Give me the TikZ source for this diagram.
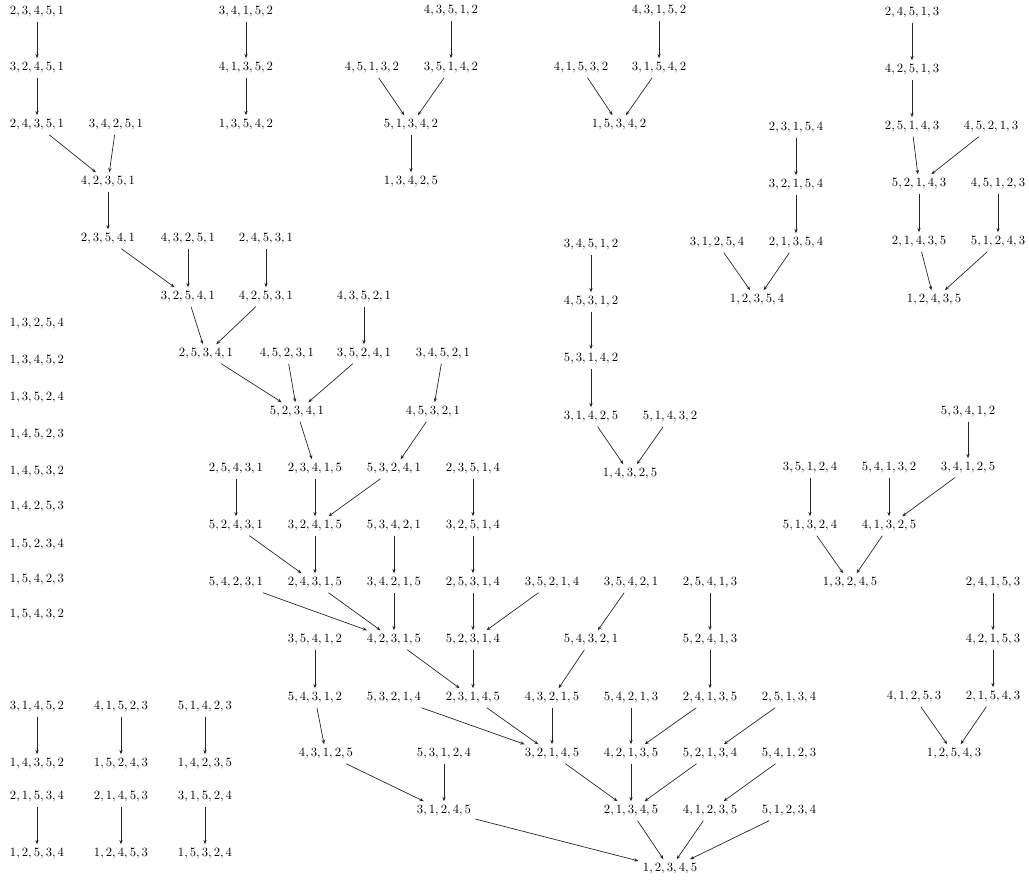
\documentclass[tikz,border=0pt]{standalone}
\usetikzlibrary{arrows.meta}
\def\pmn#1#2#3#4#5{$#1,#2,#3,#4,#5$}
\tikzset{
  arr/.style={-{Stealth[length=3.4pt,width=2.6pt]}, line width=0.55pt, draw=black!85},
  every node/.style={inner sep=3.3pt}
}
\begin{document}
\begin{tikzpicture}[x=0.79pt,y=-0.79pt]
\useasboundingbox (0,0) rectangle (1029,883);
% main tree
\node (n23451) at (37,12) {\pmn23451};
\node (n32451) at (37,68) {\pmn32451};
\node (n24351) at (37,125) {\pmn24351};
\node (n34251) at (116,125) {\pmn34251};
\node (n42351) at (108,182) {\pmn42351};
\node (n23541) at (108,239) {\pmn23541};
\node (n43251) at (188,239) {\pmn43251};
\node (n24531) at (266,239) {\pmn24531};
\node (n32541) at (188,297) {\pmn32541};
\node (n42531) at (266,297) {\pmn42531};
\node (n43521) at (364,297) {\pmn43521};
\node (n25341) at (206,354) {\pmn25341};
\node (n45231) at (287,354) {\pmn45231};
\node (n35241) at (364,354) {\pmn35241};
\node (n34521) at (443,354) {\pmn34521};
\node (n52341) at (297,412) {\pmn52341};
\node (n45321) at (433,412) {\pmn45321};
\node (n25431) at (236,469) {\pmn25431};
\node (n23415) at (315,469) {\pmn23415};
\node (n53241) at (394,469) {\pmn53241};
\node (n23514) at (473,469) {\pmn23514};
\node (n52431) at (236,526) {\pmn52431};
\node (n32415) at (315,526) {\pmn32415};
\node (n53421) at (394,526) {\pmn53421};
\node (n32514) at (473,526) {\pmn32514};
\node (n54231) at (236,583) {\pmn54231};
\node (n24315) at (315,583) {\pmn24315};
\node (n34215) at (394,583) {\pmn34215};
\node (n25314) at (473,583) {\pmn25314};
\node (n35214) at (552,583) {\pmn35214};
\node (n35421) at (631,583) {\pmn35421};
\node (n25413) at (710,583) {\pmn25413};
\node (n35412) at (315,640) {\pmn35412};
\node (n42315) at (394,640) {\pmn42315};
\node (n52314) at (473,640) {\pmn52314};
\node (n54321) at (591,640) {\pmn54321};
\node (n52413) at (710,640) {\pmn52413};
\node (n54312) at (315,698) {\pmn54312};
\node (n53214) at (394,698) {\pmn53214};
\node (n23145) at (473,698) {\pmn23145};
\node (n43215) at (552,698) {\pmn43215};
\node (n54213) at (631,698) {\pmn54213};
\node (n24135) at (710,698) {\pmn24135};
\node (n25134) at (789,698) {\pmn25134};
\node (n43125) at (326,754) {\pmn43125};
\node (n53124) at (444,754) {\pmn53124};
\node (n32145) at (552,754) {\pmn32145};
\node (n42135) at (631,754) {\pmn42135};
\node (n52134) at (710,754) {\pmn52134};
\node (n54123) at (789,754) {\pmn54123};
\node (n31245) at (444,811) {\pmn31245};
\node (n21345) at (631,811) {\pmn21345};
\node (n41235) at (710,811) {\pmn41235};
\node (n51234) at (789,811) {\pmn51234};
\node (n12345) at (670,869) {\pmn12345};
% top groups
\node (n34152) at (246,12) {\pmn34152};
\node (n41352) at (246,68) {\pmn41352};
\node (n13542) at (246,125) {\pmn13542};
\node (n43512) at (451,11) {\pmn43512};
\node (n45132) at (372,68) {\pmn45132};
\node (n35142) at (451,68) {\pmn35142};
\node (n51342) at (411,125) {\pmn51342};
\node (n13425) at (411,182) {\pmn13425};
\node (n43152) at (659,11) {\pmn43152};
\node (n41532) at (581,68) {\pmn41532};
\node (n31542) at (659,68) {\pmn31542};
\node (n15342) at (619,125) {\pmn15342};
\node (n24513) at (912,13) {\pmn24513};
\node (n42513) at (912,70) {\pmn42513};
\node (n25143) at (912,127) {\pmn25143};
\node (n45213) at (991,127) {\pmn45213};
\node (n52143) at (919,184) {\pmn52143};
\node (n45123) at (998,184) {\pmn45123};
\node (n21435) at (919,242) {\pmn21435};
\node (n51243) at (998,242) {\pmn51243};
\node (n12435) at (934,300) {\pmn12435};
\node (n23154) at (796,128) {\pmn23154};
\node (n32154) at (796,185) {\pmn32154};
\node (n31254) at (717,243) {\pmn31254};
\node (n21354) at (796,243) {\pmn21354};
\node (n12354) at (757,300) {\pmn12354};
% middle group
\node (n34512) at (591,245) {\pmn34512};
\node (n45312) at (591,302) {\pmn45312};
\node (n53142) at (591,359) {\pmn53142};
\node (n31425) at (591,417) {\pmn31425};
\node (n51432) at (670,417) {\pmn51432};
\node (n14325) at (630,474) {\pmn14325};
% right groups
\node (n53412) at (968,412) {\pmn53412};
\node (n35124) at (810,468) {\pmn35124};
\node (n54132) at (889,468) {\pmn54132};
\node (n34125) at (968,468) {\pmn34125};
\node (n51324) at (810,526) {\pmn51324};
\node (n41325) at (889,526) {\pmn41325};
\node (n13245) at (850,583) {\pmn13245};
\node (n24153) at (993,583) {\pmn24153};
\node (n42153) at (993,640) {\pmn42153};
\node (n41253) at (914,697) {\pmn41253};
\node (n21543) at (993,697) {\pmn21543};
\node (n12543) at (954,754) {\pmn12543};
% left column
\node (n13254) at (37,324) {\pmn13254};
\node (n13452) at (37,361) {\pmn13452};
\node (n13524) at (37,398) {\pmn13524};
\node (n14523) at (37,435) {\pmn14523};
\node (n14532) at (37,472) {\pmn14532};
\node (n14253) at (37,507) {\pmn14253};
\node (n15234) at (37,545) {\pmn15234};
\node (n15423) at (37,580) {\pmn15423};
\node (n15432) at (37,615) {\pmn15432};
% bottom-left
\node (n31452) at (37,707) {\pmn31452};
\node (n41523) at (121,707) {\pmn41523};
\node (n51423) at (205,707) {\pmn51423};
\node (n14352) at (37,764) {\pmn14352};
\node (n15243) at (121,764) {\pmn15243};
\node (n14235) at (205,764) {\pmn14235};
\node (n21534) at (37,797) {\pmn21534};
\node (n21453) at (121,797) {\pmn21453};
\node (n31524) at (205,797) {\pmn31524};
\node (n12534) at (37,854) {\pmn12534};
\node (n12453) at (121,854) {\pmn12453};
\node (n15324) at (205,854) {\pmn15324};
% edges
\foreach \a/\b in {23451/32451, 32451/24351, 24351/42351, 34251/42351, 42351/23541,
  23541/32541, 43251/32541, 24531/42531, 32541/25341, 42531/25341, 43521/35241,
  25341/52341, 45231/52341, 35241/52341, 34521/45321, 52341/23415, 45321/53241,
  25431/52431, 23415/32415, 53241/32415, 23514/32514, 52431/24315, 32415/24315,
  53421/34215, 32514/25314, 54231/42315, 24315/42315, 34215/42315, 25314/52314,
  35214/52314, 35421/54321, 25413/52413, 35412/54312, 42315/23145, 52314/23145,
  54321/43215, 52413/24135, 54312/43125, 53214/32145, 23145/32145, 43215/32145,
  54213/42135, 24135/42135, 25134/52134, 43125/31245, 53124/31245, 32145/21345,
  42135/21345, 52134/21345, 54123/41235, 31245/12345, 21345/12345, 41235/12345,
  51234/12345,
  34152/41352, 41352/13542, 43512/35142, 45132/51342, 35142/51342, 51342/13425,
  43152/31542, 41532/15342, 31542/15342, 24513/42513, 42513/25143, 25143/52143,
  45213/52143, 52143/21435, 45123/51243, 21435/12435, 51243/12435, 23154/32154,
  32154/21354, 21354/12354, 31254/12354,
  34512/45312, 45312/53142, 53142/31425, 31425/14325, 51432/14325,
  53412/34125, 34125/41325, 54132/41325, 35124/51324, 51324/13245, 41325/13245,
  24153/42153, 42153/21543, 21543/12543, 41253/12543,
  31452/14352, 41523/15243, 51423/14235, 21534/12534, 21453/12453, 31524/15324}
  \draw[arr] (n\a) -- (n\b);
\end{tikzpicture}
\end{document}
